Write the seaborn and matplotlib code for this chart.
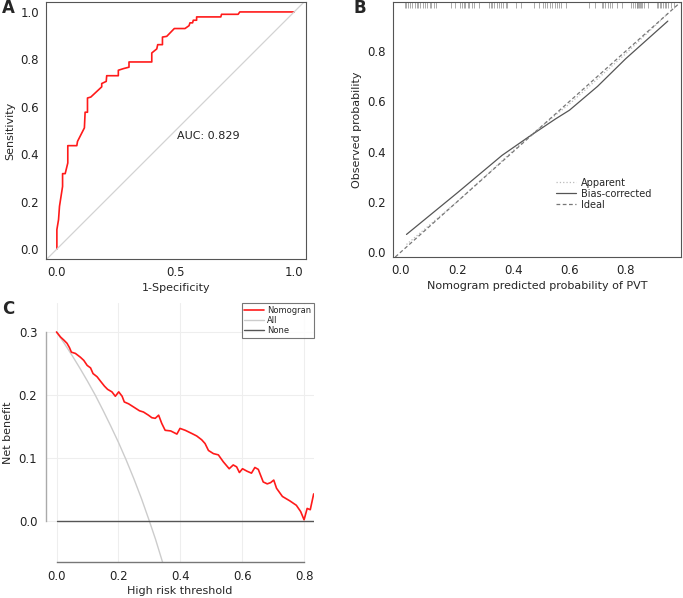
import numpy as np
import pandas as pd
import seaborn as sns
import matplotlib.pyplot as plt
from matplotlib.lines import Line2D

sns.set_style("white")
plt.rcParams['font.family'] = ['DejaVu Sans']

# ROC curve (panel A)
roc_fpr = [0, 0, 0.007, 0.011, 0.024, 0.024, 0.035, 0.046, 0.046, 0.084, 0.087, 0.116, 0.119,
           0.129, 0.129, 0.143, 0.189, 0.189, 0.208, 0.210, 0.259, 0.259, 0.281, 0.304, 0.304,
           0.400, 0.400, 0.421, 0.425, 0.445, 0.445, 0.463, 0.495, 0.540, 0.557, 0.561, 0.572,
           0.575, 0.589, 0.589, 0.691, 0.694, 0.764, 0.771, 1.0]
roc_tpr = [0, 0.082, 0.124, 0.180, 0.264, 0.318, 0.318, 0.363, 0.436, 0.436, 0.454, 0.511, 0.577,
           0.577, 0.637, 0.641, 0.684, 0.698, 0.707, 0.731, 0.731, 0.754, 0.761, 0.767, 0.789,
           0.789, 0.827, 0.844, 0.862, 0.862, 0.894, 0.897, 0.930, 0.930, 0.942, 0.954, 0.954,
           0.965, 0.965, 0.979, 0.979, 0.990, 0.990, 1.0, 1.0]
auc_label = "AUC: 0.829"

# calibration (panel B)
cal_pred = [0.02, 0.2, 0.36, 0.45, 0.55, 0.6, 0.7, 0.8, 0.95]
cal_bias = [0.07, 0.235, 0.385, 0.455, 0.53, 0.565, 0.66, 0.77, 0.92]
app_pred = [0.02, 0.2, 0.45, 0.6, 0.8, 0.95]
app_obs = [0.03, 0.2, 0.455, 0.59, 0.79, 0.95]
rug = [0.014, 0.020, 0.026, 0.034, 0.041, 0.049, 0.058, 0.062, 0.067, 0.077, 0.086, 0.093,
       0.103, 0.108, 0.117, 0.126, 0.179, 0.191, 0.211, 0.218, 0.223, 0.230, 0.238, 0.244,
       0.253, 0.262, 0.277, 0.312, 0.320, 0.326, 0.332, 0.341, 0.348, 0.356, 0.364, 0.373,
       0.379, 0.411, 0.427, 0.474, 0.491, 0.505, 0.513, 0.521, 0.529, 0.538, 0.548, 0.556,
       0.564, 0.571, 0.586, 0.670, 0.692, 0.715, 0.721, 0.727, 0.736, 0.745, 0.753, 0.768,
       0.786, 0.819, 0.827, 0.833, 0.839, 0.842, 0.845, 0.847, 0.851, 0.854, 0.859, 0.866,
       0.880, 0.910, 0.915, 0.921, 0.927, 0.933, 0.939, 0.945, 0.951, 0.963, 0.972]

# decision curve (panel C)
dca_thr = [0, 0.013, 0.024, 0.034, 0.042, 0.048, 0.061, 0.077, 0.088, 0.099, 0.110, 0.118,
           0.131, 0.142, 0.155, 0.165, 0.179, 0.190, 0.201, 0.212, 0.219, 0.233, 0.249, 0.268,
           0.281, 0.297, 0.308, 0.319, 0.330, 0.340, 0.351, 0.369, 0.389, 0.399, 0.416, 0.437,
           0.453, 0.469, 0.480, 0.491, 0.507, 0.523, 0.539, 0.558, 0.571, 0.582, 0.591, 0.601,
           0.616, 0.630, 0.641, 0.652, 0.668, 0.681, 0.692, 0.702, 0.711, 0.730, 0.754, 0.775,
           0.789, 0.800, 0.810, 0.820, 0.831]
dca_nomo = [0.300, 0.292, 0.287, 0.282, 0.275, 0.268, 0.266, 0.260, 0.255, 0.247, 0.243, 0.234,
            0.229, 0.222, 0.214, 0.209, 0.205, 0.198, 0.205, 0.198, 0.189, 0.186, 0.181, 0.175,
            0.173, 0.168, 0.164, 0.163, 0.168, 0.155, 0.144, 0.143, 0.138, 0.147, 0.144, 0.139,
            0.135, 0.129, 0.123, 0.112, 0.107, 0.105, 0.094, 0.083, 0.089, 0.086, 0.077, 0.083,
            0.079, 0.076, 0.085, 0.082, 0.062, 0.059, 0.061, 0.065, 0.052, 0.039, 0.032, 0.025,
            0.015, 0.002, 0.020, 0.018, 0.043]
all_thr = [0, 0.025, 0.05, 0.075, 0.1, 0.125, 0.15, 0.175, 0.2, 0.225, 0.25, 0.275, 0.3, 0.32, 0.345]
all_nb = [0.3, 0.282, 0.263, 0.243, 0.222, 0.2, 0.176, 0.151, 0.125, 0.097, 0.067, 0.035, 0.0, -0.029, -0.069]
none_thr = [0, 0.831]
none_nb = [0, 0]

fs_tick = 8.5
fs_lab = 8
frame = '#555555'

fig = plt.figure(figsize=(6.83, 5.98), dpi=100)

# ---- A: ROC
axA = fig.add_axes([0.0673, 0.5669, 0.3807, 0.4298])
sns.lineplot(x=roc_fpr, y=roc_tpr, ax=axA, color='#ff1a1a', lw=1.2, sort=False, estimator=None)
axA.axline((0, 0), slope=1, color='#d3d3d3', lw=0.9)
axA.text(0.505, 0.477, auc_label, fontsize=fs_lab, color='#222222', va='center')
axA.set_xlim(-0.046, 1.05)
axA.set_ylim(-0.042, 1.042)
axA.set_xticks([0, 0.5, 1.0])
axA.set_xticklabels(['0.0', '0.5', '1.0'])
axA.set_yticks([0, 0.2, 0.4, 0.6, 0.8, 1.0])
axA.set_yticklabels(['0.0', '0.2', '0.4', '0.6', '0.8', '1.0'])
axA.set_xlabel('1-Specificity', fontsize=fs_lab, labelpad=3)
axA.set_ylabel('Sensitivity', fontsize=fs_lab, labelpad=4)

# ---- B: calibration
axB = fig.add_axes([0.5754, 0.5702, 0.4217, 0.4264])
sns.lineplot(x=app_pred, y=app_obs, ax=axB, color='#bbbbbb', lw=0.9, ls=':', estimator=None)
sns.lineplot(x=cal_pred, y=cal_bias, ax=axB, color='#555555', lw=0.9, estimator=None)
axB.axline((0, 0), slope=1, color='#777777', lw=0.9, ls=(0, (3, 2)))
axB.vlines(rug, 0.975, 1.0, transform=axB.get_xaxis_transform(), color='#888888', lw=0.5)
axB.set_xlim(-0.028, 0.997)
axB.set_ylim(-0.02, 0.996)
axB.set_xticks([0, 0.2, 0.4, 0.6, 0.8])
axB.set_xticklabels(['0.0', '0.2', '0.4', '0.6', '0.8'])
axB.set_yticks([0, 0.2, 0.4, 0.6, 0.8])
axB.set_yticklabels(['0.0', '0.2', '0.4', '0.6', '0.8'])
axB.set_xlabel('Nomogram predicted probability of PVT', fontsize=fs_lab, labelpad=3)
axB.set_ylabel('Observed probability', fontsize=fs_lab, labelpad=4)
handles_b = [Line2D([], [], color='#bbbbbb', lw=0.9, ls=':'),
             Line2D([], [], color='#555555', lw=0.9),
             Line2D([], [], color='#777777', lw=0.9, ls=(0, (3, 2)))]
axB.legend(handles_b, ['Apparent', 'Bias-corrected', 'Ideal'], loc='upper left',
           bbox_to_anchor=(0.55, 0.33), frameon=False, fontsize=7, handlelength=2.0,
           handletextpad=0.5, labelspacing=0.1, borderpad=0)

for ax in (axA, axB):
    for s in ax.spines.values():
        s.set_color(frame)
        s.set_linewidth(0.8)
    ax.tick_params(axis='both', labelsize=fs_tick, length=3, width=0.7, color=frame,
                   direction='out', pad=2, labelcolor='#222222')
    ax.set_facecolor('white')

# ---- C: decision curve
axC = fig.add_axes([0.0669, 0.0602, 0.3928, 0.4331])
axC.grid(True, color='#eeeeee', lw=0.8)
axC.set_axisbelow(True)
sns.lineplot(x=all_thr, y=all_nb, ax=axC, color='#cccccc', lw=1.0, estimator=None)
sns.lineplot(x=none_thr, y=none_nb, ax=axC, color='#555555', lw=1.0, estimator=None)
sns.lineplot(x=dca_thr, y=dca_nomo, ax=axC, color='#ff1a1a', lw=1.2, estimator=None)
axC.set_xlim(-0.035, 0.832)
axC.set_ylim(-0.065, 0.346)
axC.set_xticks([0, 0.2, 0.4, 0.6, 0.8])
axC.set_xticklabels(['0.0', '0.2', '0.4', '0.6', '0.8'])
axC.set_yticks([0, 0.1, 0.2, 0.3])
axC.set_yticklabels(['0.0', '0.1', '0.2', '0.3'])
for side in ('top', 'right'):
    axC.spines[side].set_visible(False)
axC.spines['left'].set_bounds(0, 0.3)
axC.spines['bottom'].set_bounds(0, 0.8)
axC.spines['left'].set_color('#aaaaaa')
axC.spines['bottom'].set_color('#777777')
for side in ('left', 'bottom'):
    axC.spines[side].set_linewidth(1.0)
    axC.spines[side].set_zorder(5)
axC.tick_params(axis='both', labelsize=fs_tick, length=4, width=0.8, color='#888888',
                direction='out', pad=2, labelcolor='#222222')
axC.set_xlabel('High risk threshold', fontsize=fs_lab, labelpad=2)
axC.set_ylabel('Net benefit', fontsize=fs_lab, labelpad=4)
handles_c = [Line2D([], [], color='#ff1a1a', lw=1.2),
             Line2D([], [], color='#cccccc', lw=1.0),
             Line2D([], [], color='#555555', lw=1.0)]
legC = axC.legend(handles_c, ['Nomogran', 'All', 'None'], loc='upper right',
                  bbox_to_anchor=(1.0, 1.0), fontsize=6, frameon=True, fancybox=False,
                  handlelength=2.4, handletextpad=0.3, labelspacing=0.1, borderpad=0.35,
                  borderaxespad=0)
legC.get_frame().set_edgecolor('#555555')
legC.get_frame().set_linewidth(0.8)

# panel letters
fig.text(0.003, 0.986, 'A', fontsize=12, fontweight='bold', va='center')
fig.text(0.518, 0.986, 'B', fontsize=12, fontweight='bold', va='center')
fig.text(0.003, 0.483, 'C', fontsize=12, fontweight='bold', va='center')

fig.savefig('out.png', dpi=100)
